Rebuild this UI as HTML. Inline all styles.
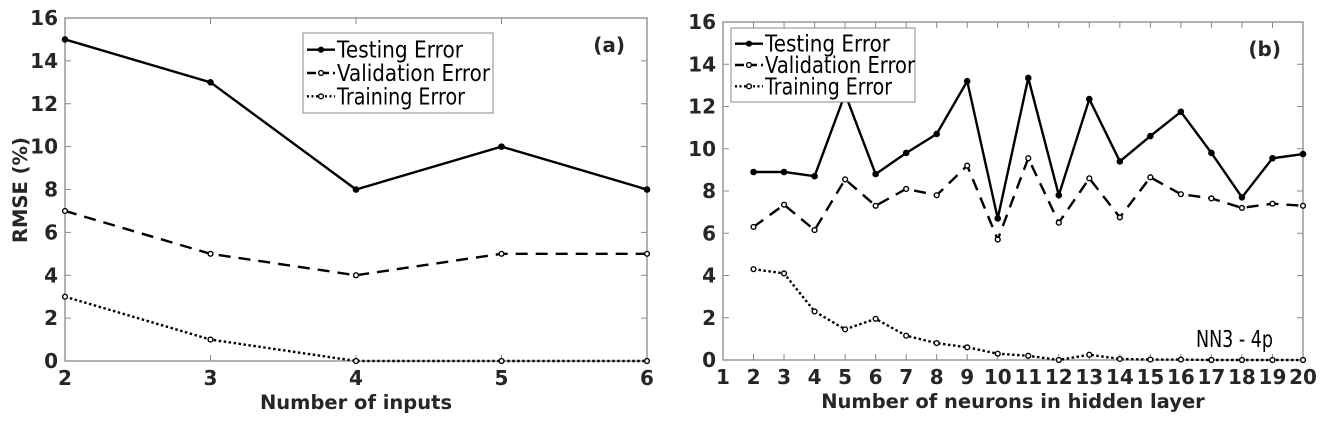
<!DOCTYPE html>
<html><head><meta charset="utf-8"><style>
html,body{margin:0;padding:0;background:#fff;}
svg{display:block;font-family:"DejaVu Sans","Liberation Sans",sans-serif;}
.tk{font-weight:bold;font-size:20px;fill:#262626;}
.lab{font-weight:bold;font-size:19.5px;fill:#262626;}
.leg{font-size:23px;fill:#000;}
</style></head><body>
<svg id="svg" width="1327" height="424" viewBox="0 0 1327 424"></svg>
<script>
const catsA = [2,3,4,5,6];
const testA = [15,13,8,10,8];
const valA = [7,5,4,5,5];
const trainA = [3,1,0,0,0];
const catsB = [2,3,4,5,6,7,8,9,10,11,12,13,14,15,16,17,18,19,20];
const testB = [8.9,8.9,8.7,12.6,8.8,9.8,10.7,13.2,6.7,13.35,7.8,12.35,9.4,10.6,11.75,9.8,7.7,9.55,9.75];
const valB = [6.3,7.35,6.15,8.55,7.3,8.1,7.8,9.2,5.7,9.55,6.5,8.6,6.75,8.65,7.85,7.65,7.2,7.4,7.3];
const trainB = [4.3,4.1,2.3,1.45,1.95,1.15,0.8,0.6,0.3,0.2,0.0,0.25,0.05,0.02,0.02,0.0,0.0,0.0,0.0];
const yTicks = [0,2,4,6,8,10,12,14,16];
const xTicksA = [2,3,4,5,6];
const xTicksB = [1,2,3,4,5,6,7,8,9,10,11,12,13,14,15,16,17,18,19,20];

const NS="http://www.w3.org/2000/svg";
const svg=document.getElementById('svg');
function mk(tag,attrs,parent,text){const e=document.createElementNS(NS,tag);for(const k in attrs)e.setAttribute(k,attrs[k]);if(text!==undefined)e.textContent=text;(parent||svg).appendChild(e);return e;}

function chart(id,L,R,T,B,xmin,xmax,xt,series,xlabel,tag){
  const g=mk('g',{});
  
  
  const X=v=>L+(v-xmin)/(xmax-xmin)*(R-L);
  const Y=v=>B-(v/16)*(B-T);
  mk('rect',{x:L,y:T,width:R-L,height:B-T,fill:'none',stroke:'#888','stroke-width':1.3},g);
  yTicks.forEach(v=>{
    mk('line',{x1:L,x2:L+6,y1:Y(v),y2:Y(v),stroke:'#888'},g);
    mk('line',{x1:R,x2:R-6,y1:Y(v),y2:Y(v),stroke:'#888'},g);
    const t=mk('text',{x:L-7,y:Y(v)+7,'text-anchor':'end',class:'tk'},g,String(v));
    
    
  });
  xt.forEach(v=>{
    mk('line',{x1:X(v),x2:X(v),y1:B,y2:B-6,stroke:'#888'},g);
    mk('line',{x1:X(v),x2:X(v),y1:T,y2:T+6,stroke:'#888'},g);
    const t=mk('text',{x:X(v),y:B+24,'text-anchor':'middle',class:'tk'},g,String(v));
    
    
  });
  series.forEach(s=>{
    const pts=s.x.map((c,i)=>X(c)+','+Y(s.y[i])).join(' ');
    const pl=mk('polyline',{points:pts,fill:'none',stroke:'#000','stroke-width':2.4,'stroke-dasharray':s.dash},g);
    
    
    s.x.forEach((c,i)=>{
      const m=mk('circle',{cx:X(c),cy:Y(s.y[i]),r:s.filled?2.6:2.4,fill:s.filled?'#000':'#fff',stroke:'#000','stroke-width':1.4},g);
      
      
    });
  });
  const xl=mk('text',{x:(L+R)/2,y:B+48,'text-anchor':'middle',class:'lab'},g,xlabel);
  
  
  const tg=mk('text',{x:R-22,y:T+34,'text-anchor':'end',class:'tk'},g,tag);
  
  
  return g;
}
function legend(g,x,y,w,h,lens){
  const lg=mk('g',{},g);
  
  
  mk('rect',{x:x,y:y,width:w,height:h,fill:'#fff',stroke:'#888','stroke-width':1},lg);
  const items=[['Testing Error','',true],['Validation Error','9,4',false],['Training Error','2,2.5',false]];
  const step=(h-10)/3;
  items.forEach((it,i)=>{
    const cy=y+5+step*(i+0.5);
    mk('line',{x1:x+4,x2:x+32,y1:cy,y2:cy,stroke:'#000','stroke-width':2.4,'stroke-dasharray':it[1]},lg);
    mk('circle',{cx:x+18,cy:cy,r:2.4,fill:it[2]?'#000':'#fff',stroke:'#000','stroke-width':1.4},lg);
    const t=mk('text',{x:x+34,y:cy+8,class:'leg',textLength:lens[i],lengthAdjust:'spacingAndGlyphs'},lg,it[0]);
    
    
  });
}
const gA=chart('chart-a',65,647,18,361,2,6,xTicksA,[
  {name:'testing-error',x:catsA,y:testA,dash:'',filled:true},
  {name:'validation-error',x:catsA,y:valA,dash:'12,8',filled:false},
  {name:'training-error',x:catsA,y:trainA,dash:'2.5,2.5',filled:false}],'Number of inputs','(a)');
legend(gA,303,33,190,80,[126,153,128]);
const yl=mk('text',{x:0,y:0,transform:'translate(27,190) rotate(-90)','text-anchor':'middle',class:'lab'},gA,'RMSE (%)');



const gB=chart('chart-b',723,1303,22,360,1,20,xTicksB,[
  {name:'testing-error',x:catsB,y:testB,dash:'',filled:true},
  {name:'validation-error',x:catsB,y:valB,dash:'12,8',filled:false},
  {name:'training-error',x:catsB,y:trainB,dash:'2.5,2.5',filled:false}],'Number of neurons in hidden layer','(b)');
legend(gB,731,28,184,74,[125,150,127]);
const nn=mk('text',{x:1196,y:347,class:'leg','font-size':'19',textLength:77,lengthAdjust:'spacingAndGlyphs'},gB,'NN3 - 4p');


</script>
</body></html>
